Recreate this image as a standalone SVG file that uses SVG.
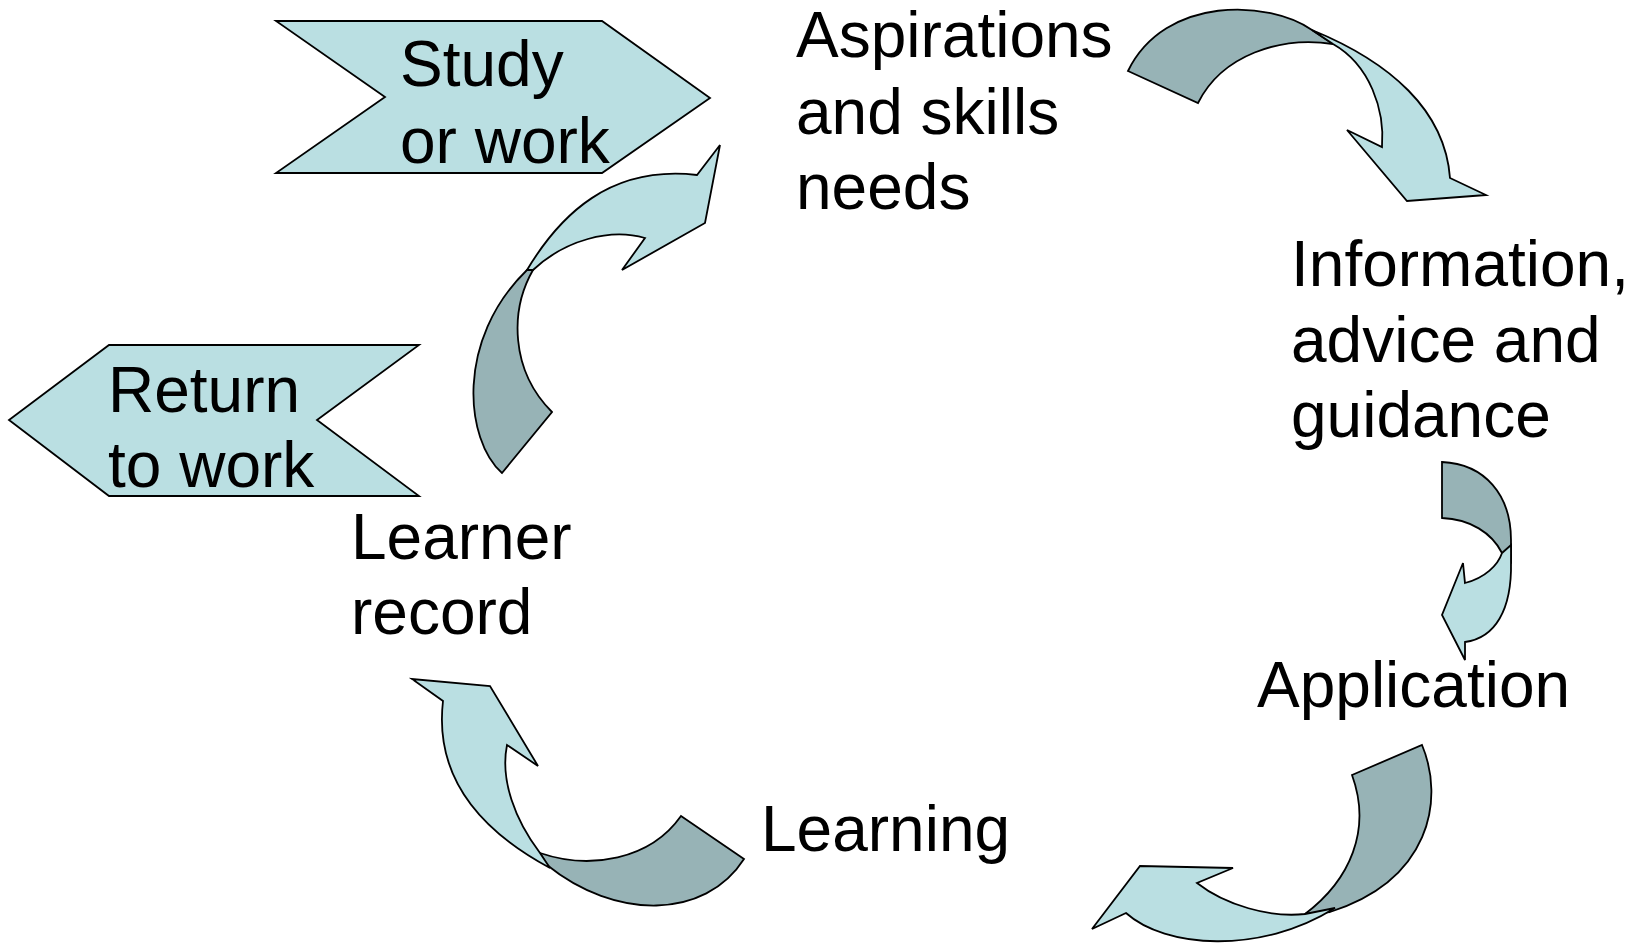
<svg xmlns="http://www.w3.org/2000/svg" width="1632" height="946" viewBox="0 0 1632 946">
<style>
.lt{fill:#BADFE2;stroke:#000;stroke-width:1.8;stroke-linejoin:miter}
.dk{fill:#97B3B6;stroke:#000;stroke-width:1.8;stroke-linejoin:miter}
.t{font-family:"Liberation Sans",Arial,sans-serif;font-size:64px;fill:#000}
</style>
<rect width="1632" height="946" fill="#fff"/>
<g id="connectors">
<g id="arrow-aspirations-info">
<path class="dk" d="M1128,71 L1198,103 C1222,55 1280,36 1333,44 L1312,30 C1270,0 1165,-5 1128,71 Z"/>
<path class="lt" d="M1312,30 C1390,62 1445,110 1450,178 L1486,195 L1407,201 L1347,130 L1382,147 C1385,110 1370,65 1333,44 Z"/>
</g>
<g id="arrow-info-application">
<path class="dk" d="M1442,462 C1485,464 1511,495 1511,540 L1511,562 L1502,553 C1492,533 1470,519 1442,518 Z"/>
<path class="lt" d="M1502,553 L1511,545 L1511,562 C1512,610 1495,638 1465,642 L1465,660 L1442,615 L1463,563 L1465,583 C1485,578 1498,565 1502,553 Z"/>
</g>
<g id="arrow-application-learning">
<path class="dk" d="M1352,775 L1422,745 C1445,800 1430,880 1330,912 L1305,914 C1350,880 1372,830 1352,775 Z"/>
<path class="lt" d="M1305,914 C1270,918 1225,905 1197,883 L1233,868 L1140,866 L1092,929 L1126,913 C1165,948 1260,955 1335,908 Z"/>
</g>
<g id="arrow-learning-record">
<path class="dk" d="M681,816 L744,859 C705,920 615,920 547,865 L540,853 C590,870 650,860 681,816 Z"/>
<path class="lt" d="M540,853 C515,820 500,780 507,745 L538,766 L490,686 L412,679 L443,701 C435,770 470,825 550,868 Z"/>
</g>
<g id="arrow-record-aspirations">
<path class="dk" d="M502,473 C465,440 455,340 527,270 L533,270 C510,310 510,370 552,412 Z"/>
<path class="lt" d="M527,270 C560,215 610,165 697,175 L720,145 L705,223 L622,270 L645,238 C610,228 565,240 533,270 Z"/>
</g>
</g>
<g id="study-or-work">
<polygon class="lt" points="276,21 602,21 710,98 602,173 276,173 385,97"/>
<text class="t" x="400" y="86">Study</text>
<text class="t" x="400" y="163">or work</text>
</g>
<g id="return-to-work">
<polygon class="lt" points="109,345 419,345 317,420 419,496 109,496 9,420"/>
<text class="t" x="108" y="412">Return</text>
<text class="t" x="108" y="487">to work</text>
</g>
<g id="aspirations">
<text class="t" x="796" y="57">Aspirations</text>
<text class="t" x="796" y="134">and skills</text>
<text class="t" x="796" y="209">needs</text>
</g>
<g id="information">
<text class="t" x="1291" y="286">Information,</text>
<text class="t" x="1291" y="362">advice and</text>
<text class="t" x="1291" y="437">guidance</text>
</g>
<g id="application">
<text class="t" x="1257" y="707">Application</text>
</g>
<g id="learning">
<text class="t" x="761" y="851">Learning</text>
</g>
<g id="learner-record">
<text class="t" x="351" y="559">Learner</text>
<text class="t" x="351" y="634">record</text>
</g>
</svg>
